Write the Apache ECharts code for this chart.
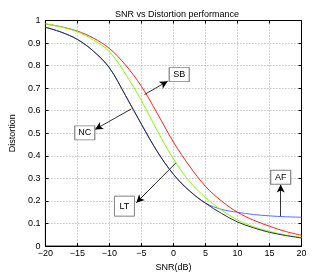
<!DOCTYPE html>
<html>
<head>
<meta charset="utf-8">
<script src="https://cdn.jsdelivr.net/npm/echarts@6/dist/echarts.min.js"></script>
<style>
html,body{margin:0;padding:0;background:#fff;}
#c{width:332px;height:277px;}
</style>
</head>
<body>
<div id="c"></div>
<script>
// SNR (dB) sample points
var snr = [-20, -17.5, -15, -12.5, -10, -7.5, -5, -2.5, 0, 2.5, 5, 7.5, 10, 12.5, 15, 17.5, 20];
// Distortion values
var nc = [0.970, 0.948, 0.916, 0.864, 0.790, 0.668, 0.540, 0.418, 0.318, 0.245, 0.190, 0.145, 0.107, 0.081, 0.061, 0.047, 0.036];
var lt = [0.985, 0.971, 0.950, 0.914, 0.862, 0.763, 0.645, 0.510, 0.386, 0.287, 0.215, 0.160, 0.116, 0.086, 0.065, 0.050, 0.038];
var sb = [0.985, 0.972, 0.953, 0.922, 0.876, 0.803, 0.708, 0.587, 0.461, 0.355, 0.265, 0.200, 0.150, 0.115, 0.088, 0.065, 0.048];
var af = [0.970, 0.948, 0.916, 0.864, 0.790, 0.668, 0.540, 0.418, 0.318, 0.245, 0.191, 0.163, 0.150, 0.140, 0.134, 0.130, 0.128];
// Annotation labels: [label, arrow start x, start y, arrow end x, end y, box x, box y]
var notes = [
  ['NC', -6.58, 0.608, -12.26, 0.517, -13.85, 0.502],
  ['SB', -4.52, 0.672, -0.90, 0.731, 0.90, 0.760],
  ['LT', 0.39, 0.369, -5.80, 0.192, -7.66, 0.177],
  ['AF', 16.75, 0.133, 16.75, 0.273, 16.75, 0.305]
];

function pairs(ys){ return snr.map(function(x,i){ return [x, ys[i]]; }); }
var FONT = 'Liberation Sans, Arial, sans-serif';

var chart = echarts.init(document.getElementById('c'));
var lineSeries = function(name, ys, color, z){
  return {
    name: name, type: 'line', data: pairs(ys), smooth: 0.35, showSymbol: false,
    lineStyle: {color: color, width: 1}, itemStyle:{color: color}, z: z, silent: true
  };
};
var series = [
  lineSeries('AF', af, '#5a6cff', 2),
  lineSeries('SB', sb, '#ff2020', 3),
  lineSeries('LT', lt, '#80ff00', 4),
  lineSeries('NC', nc, '#2e2e44', 5)
];
series.push({
  type: 'line', data: [], silent: true, z: 10,
  markLine: {
    silent: true, animation: false,
    symbol: ['none', 'arrow'], symbolSize: [6, 8],
    lineStyle: {color: '#000', width: 0.8, type: 'solid'},
    label: {show: false},
    data: notes.map(function(n){ return [{coord:[n[1], n[2]]}, {coord:[n[3], n[4]]}]; })
  },
  markPoint: {
    silent: true, animation: false,
    data: notes.map(function(n){
      return {name: n[0], coord: [n[5], n[6]], symbol: 'rect',
              symbolSize: n[0]==='LT' ? [20, 20] : [20, 14]};
    }),
    itemStyle: {color: '#fff', borderColor: '#808080', borderWidth: 1},
    label: {show: true, position: 'inside', formatter: '{b}', color: '#000', fontSize: 9, fontFamily: FONT}
  }
});

chart.setOption({
  animation: false,
  backgroundColor: '#fff',
  title: {
    text: 'SNR vs Distortion performance', left: 172, top: 5, textAlign: 'center',
    textStyle: {fontSize: 9, fontWeight: 'normal', color: '#000', fontFamily: FONT}
  },
  grid: {left: 43, right: 30.5, top: 20.5, bottom: 30.5, show: true, borderColor: '#000', borderWidth: 1},
  xAxis: [{
    type: 'value', min: -20, max: 20, interval: 5,
    name: 'SNR(dB)', nameLocation: 'middle', nameGap: 15,
    nameTextStyle: {fontSize: 9, color: '#000', fontFamily: FONT},
    axisLine: {show: true, onZero: false, lineStyle: {color: '#000', width: 1}},
    axisTick: {show: true, inside: true, length: 3, lineStyle: {color: '#000'}},
    axisLabel: {fontSize: 9, color: '#000', margin: 3, fontFamily: FONT,
      formatter: function(v){ return String(v).replace('-', '\u2212'); }},
    splitLine: {show: true, lineStyle: {color: '#aaa', type: [1, 2], width: 1}}
  }, {
    type: 'value', min: -20, max: 20, interval: 5, position: 'top',
    axisLine: {show: true, onZero: false, lineStyle: {color: '#000'}},
    axisTick: {show: true, inside: true, length: 3, lineStyle: {color: '#000'}},
    axisLabel: {show: false}, splitLine: {show: false}
  }],
  yAxis: [{
    type: 'value', min: 0, max: 1, interval: 0.1,
    name: 'Distortion', nameLocation: 'middle', nameGap: 22,
    nameTextStyle: {fontSize: 9, color: '#000', fontFamily: FONT},
    axisLine: {show: true, onZero: false, lineStyle: {color: '#000', width: 1}},
    axisTick: {show: true, inside: true, length: 3, lineStyle: {color: '#000'}},
    axisLabel: {fontSize: 9, color: '#000', margin: 5, fontFamily: FONT,
      formatter: function(v){ return String(Math.round(v*10)/10); }},
    splitLine: {show: true, lineStyle: {color: '#aaa', type: [1, 2], width: 1}}
  }, {
    type: 'value', min: 0, max: 1, interval: 0.1, position: 'right',
    axisLine: {show: true, onZero: false, lineStyle: {color: '#000'}},
    axisTick: {show: true, inside: true, length: 3, lineStyle: {color: '#000'}},
    axisLabel: {show: false}, splitLine: {show: false}
  }],
  series: series
});
</script>
</body>
</html>
